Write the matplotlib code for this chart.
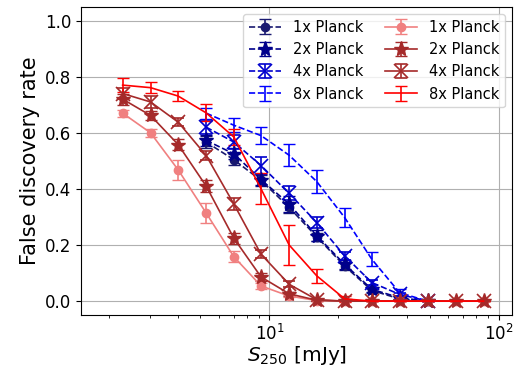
import matplotlib
matplotlib.use('Agg')
import matplotlib.pyplot as plt

# flux bins [mJy]
s250 = [2.29, 3.03, 4.0, 5.3, 7.0, 9.2, 12.2, 16.1, 21.3, 28.0, 37.0, 49.0, 65.0, 86.0]
s250_blue = s250[3:12]

# blue (dashed) series
b1 = [0.567, 0.504, 0.430, 0.334, 0.229, 0.125, 0.038, 0.008, 0.0]
b1_err = [0.02, 0.02, 0.02, 0.02, 0.015, 0.015, 0.01, 0.005, 0.0]
b2 = [0.573, 0.525, 0.433, 0.346, 0.233, 0.131, 0.042, 0.012, 0.0]
b2_err = [0.02, 0.02, 0.02, 0.03, 0.02, 0.015, 0.01, 0.005, 0.0]
b4 = [0.620, 0.567, 0.483, 0.384, 0.280, 0.161, 0.066, 0.024, 0.0]
b4_err = [0.025, 0.025, 0.03, 0.025, 0.02, 0.015, 0.01, 0.005, 0.0]
b8 = [0.670, 0.627, 0.590, 0.520, 0.426, 0.298, 0.149, 0.030, 0.0]
b8_err = [0.02, 0.025, 0.03, 0.04, 0.04, 0.035, 0.025, 0.012, 0.0]

# red (solid) series
r1 = [0.670, 0.600, 0.468, 0.314, 0.158, 0.054, 0.018, 0.002, 0, 0, 0, 0, 0, 0]
r1_err = [0.012, 0.015, 0.035, 0.035, 0.02, 0.01, 0.005, 0, 0, 0, 0, 0, 0, 0]
r2 = [0.720, 0.662, 0.558, 0.410, 0.224, 0.086, 0.026, 0.003, 0, 0, 0, 0, 0, 0]
r2_err = [0.02, 0.015, 0.02, 0.02, 0.02, 0.015, 0.008, 0.002, 0, 0, 0, 0, 0, 0]
r4 = [0.740, 0.710, 0.638, 0.519, 0.346, 0.167, 0.060, 0.005, 0, 0, 0, 0, 0, 0]
r4_err = [0.02, 0.02, 0.015, 0.015, 0.02, 0.015, 0.01, 0.003, 0, 0, 0, 0, 0, 0]
r8 = [0.770, 0.761, 0.731, 0.671, 0.585, 0.400, 0.200, 0.090, 0.008, 0, 0, 0, 0, 0]
r8_err = [0.025, 0.02, 0.018, 0.03, 0.03, 0.055, 0.07, 0.025, 0.01, 0, 0, 0, 0, 0]

fig, ax = plt.subplots(figsize=(5.14, 3.66), dpi=100)
fig.subplots_adjust(left=0.158, right=0.997, bottom=0.139, top=0.982)

kw = dict(capsize=4, lw=1.2, elinewidth=1.2)
ax.errorbar(s250_blue, b1, yerr=b1_err, fmt='o--', color='#191970', ms=6, label='1x Planck', **kw)
ax.errorbar(s250_blue, b2, yerr=b2_err, fmt='*--', color='#00008B', ms=11, label='2x Planck', **kw)
ax.errorbar(s250_blue, b4, yerr=b4_err, fmt='x--', color='#0000CD', ms=10, mew=1.2, label='4x Planck', **kw)
ax.errorbar(s250_blue, b8, yerr=b8_err, fmt='--', color='#0000FF', label='8x Planck', **kw)

ax.errorbar(s250, r1, yerr=r1_err, fmt='o-', color='#F08080', ms=6, label='1x Planck', **kw)
ax.errorbar(s250, r2, yerr=r2_err, fmt='*-', color='#A52A2A', ms=11, label='2x Planck', **kw)
ax.errorbar(s250, r4, yerr=r4_err, fmt='x-', color='#A52A2A', ms=10, mew=1.2, label='4x Planck', **kw)
ax.errorbar(s250, r8, yerr=r8_err, fmt='-', color='#FF0000', label='8x Planck', **kw)

ax.set_xscale('log')
ax.set_xlim(1.51, 115)
ax.set_ylim(-0.05, 1.05)
ax.set_yticks([0.0, 0.2, 0.4, 0.6, 0.8, 1.0])
ax.grid(True, which='major', color='#b0b0b0', lw=0.8)
ax.tick_params(labelsize=12)
ax.tick_params(axis='x', pad=2.5)
ax.set_xlabel(r'$S_{250}$ [mJy]', fontsize=14.5, labelpad=0)
ax.set_ylabel('False discovery rate', fontsize=15)
ax.legend(ncol=2, loc='upper right', fontsize=10.5, handlelength=2.2,
          columnspacing=1.5)

fig.savefig('out.png', dpi=100)
